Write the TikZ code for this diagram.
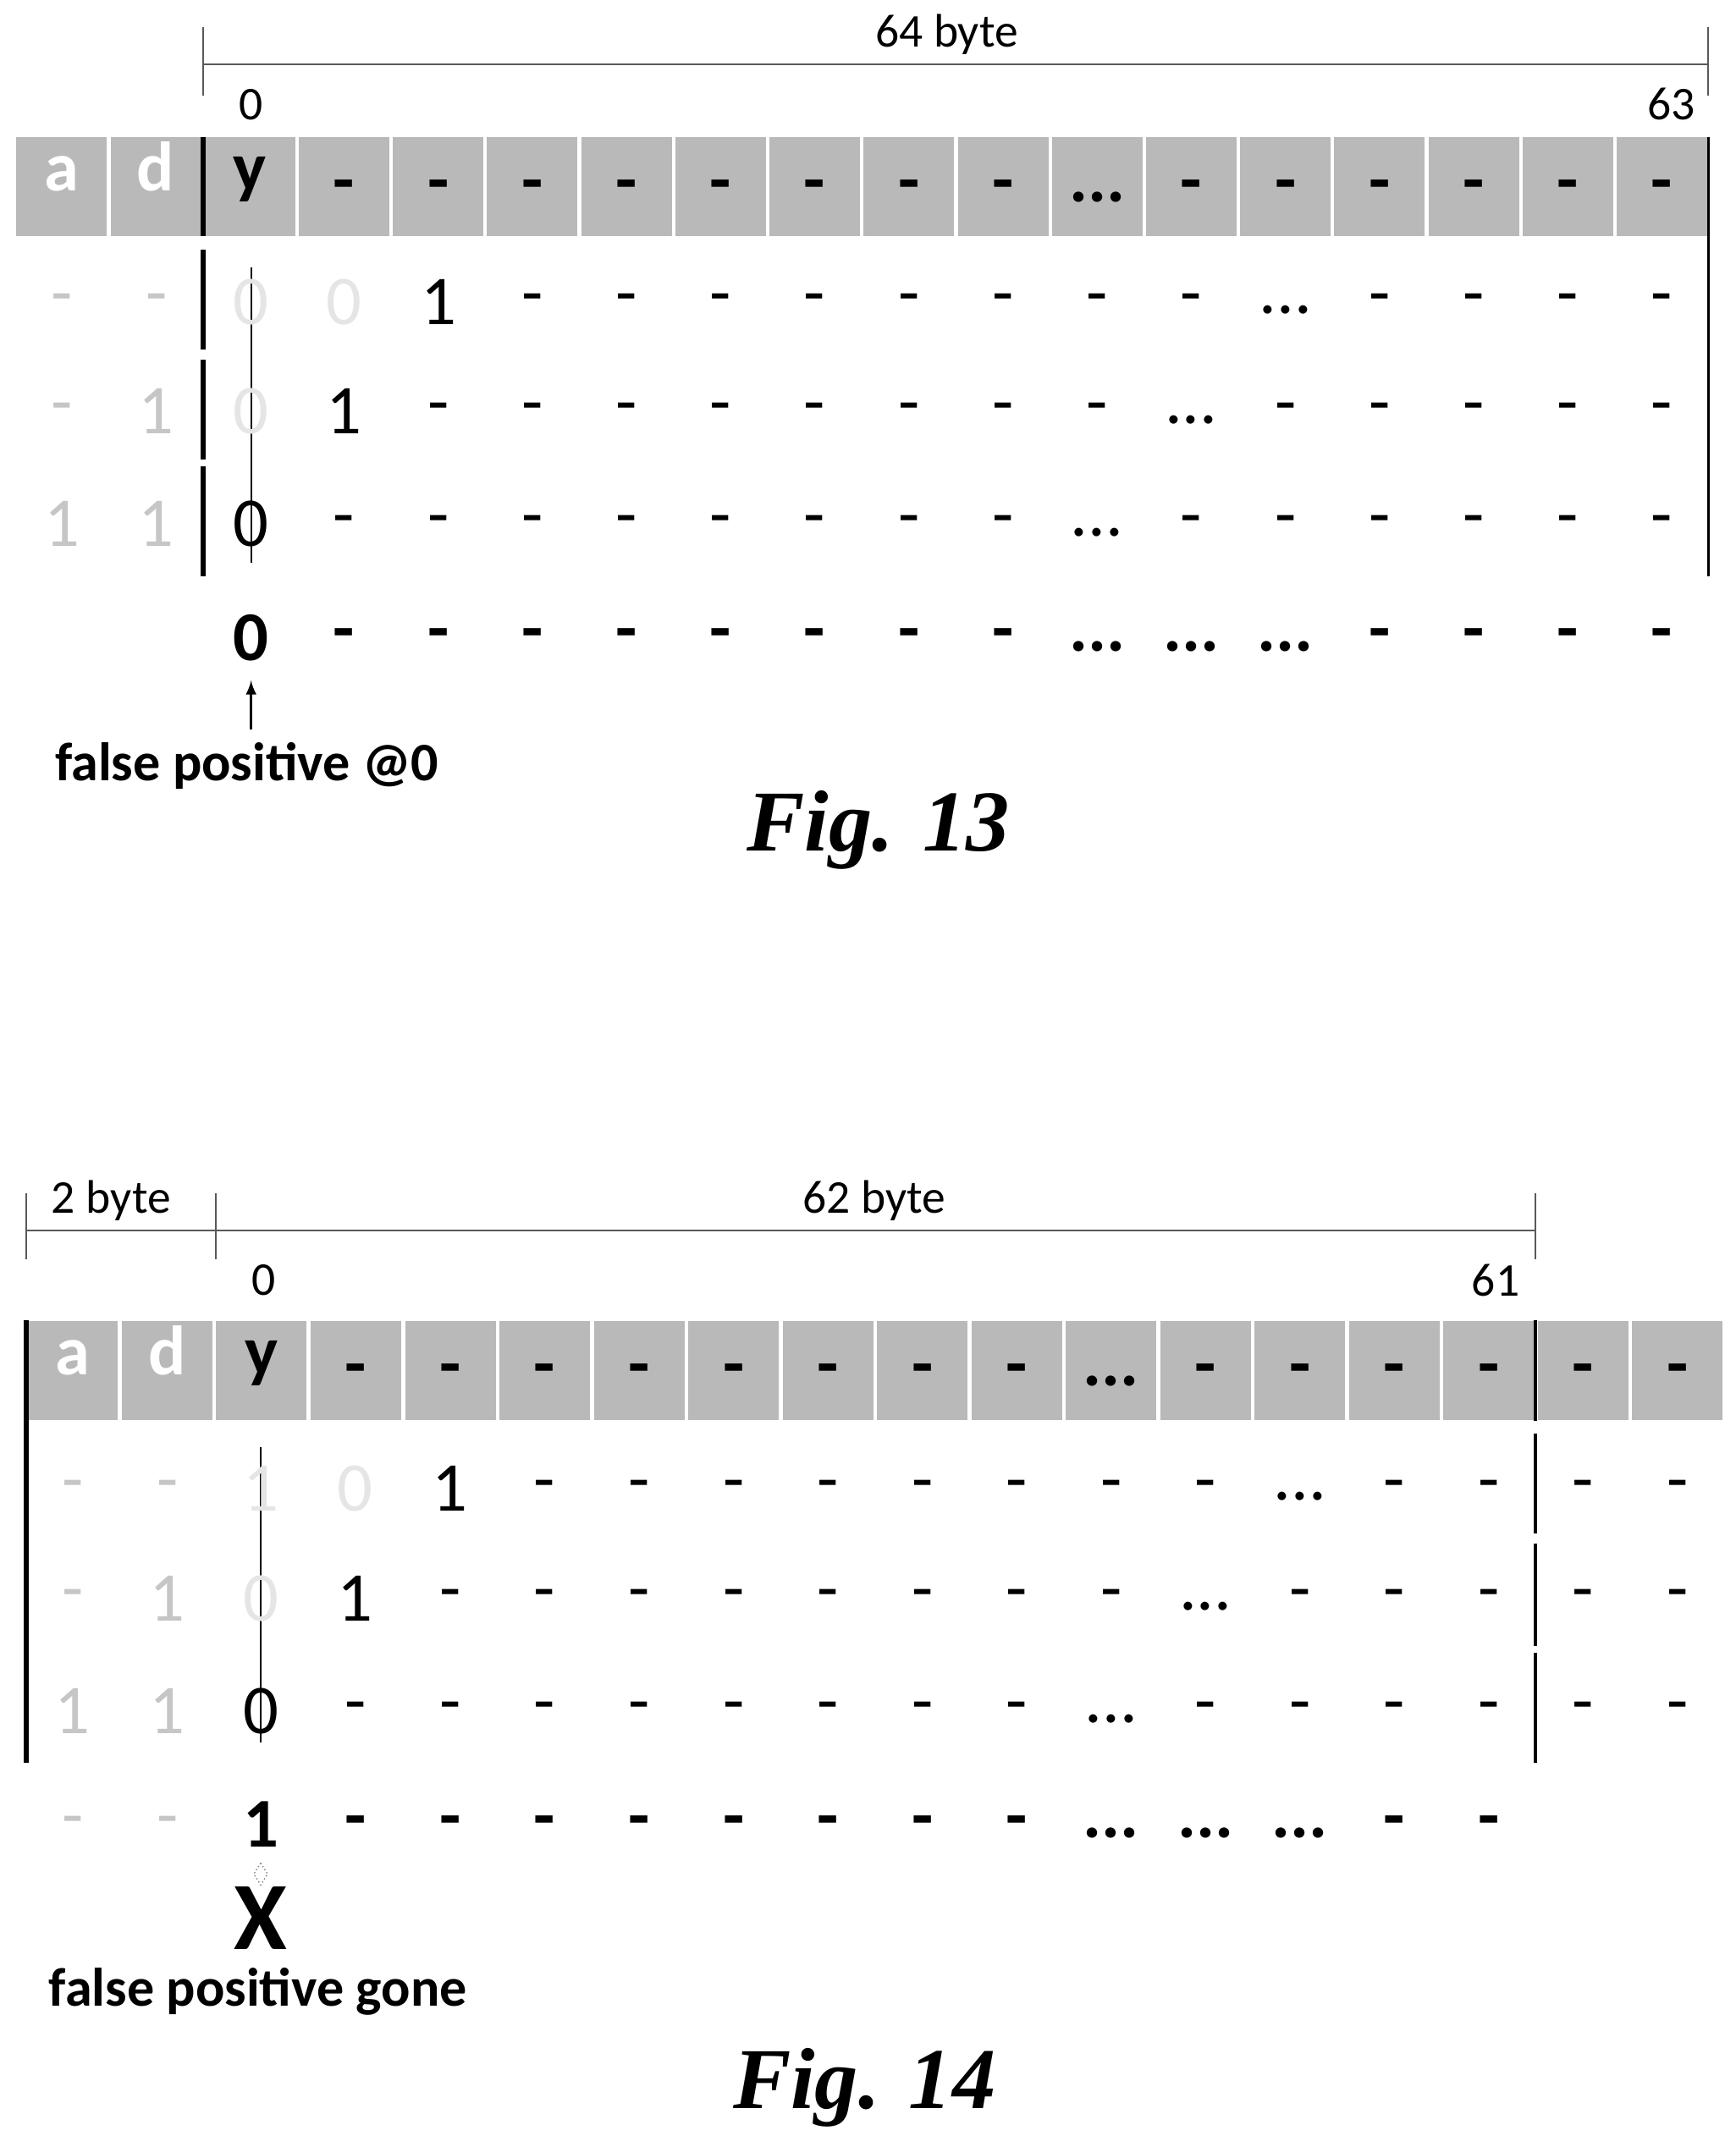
\documentclass[tikz,border=0pt]{standalone}
\usepackage{fontspec}
\setmainfont{Carlito}
\newfontfamily\figfont{Liberation Serif}
\begin{document}
\begin{tikzpicture}[x=0.02cm,y=-0.02cm,
  cell/.style={fill=gray!55,minimum width=66*0.02cm,minimum height=72*0.02cm,inner sep=0,anchor=center},
  big/.style={font=\fontsize{29}{30}\selectfont,inner sep=0},
  bigb/.style={font=\fontsize{29}{30}\selectfont\bfseries,inner sep=0},
  hdr/.style={bigb,text height=0.5em,text depth=0.12em},
  faint/.style={big,text=gray!45},
  ghost/.style={big,text=gray!20},
  lab/.style={font=\fontsize{19.5}{20}\selectfont,inner sep=0},
  captext/.style={font=\fontsize{22.5}{24}\selectfont\bfseries,inner sep=0},
  fig/.style={font=\figfont\fontsize{36}{38}\selectfont\bfseries\itshape,inner sep=0},
  thickline/.style={line width=2pt},
  dim/.style={line width=0.7pt,gray!70!black}]
\useasboundingbox (0,0) rectangle (1265,1565);
% ================= Fig 13 =================
\coordinate (d1) at (148,47); \coordinate (d2) at (1245,47);
\draw[dim] (d1) -- (d2);
\draw[dim] (148,20) -- (148,70); \draw[dim] (1245,20) -- (1245,70);
\node[lab] (t64) at (690,25) {64 byte};
\node[lab] (z13) at (183,76) {0};
\node[lab] (e63) at (1218,76) {63};
\foreach \i in {0,...,17}{
  \pgfmathsetmacro{\cx}{45+68.6*\i}
  \node[cell] (h\i) at (\cx,136) {};
}
\node[hdr,text=white] at (h0) {a};
\node[hdr,text=white] at (h1) {d};
\node[hdr] at (h2) {y};
\foreach \i in {3,...,10,12,13,14,15,16,17}{\node[bigb] at ([yshift=-4*0.02cm]h\i) {-};}
\node[bigb] at ([yshift=-8*0.02cm]h11) {...};
\draw[thickline] (148,100) -- (148,172);
\draw[thickline] (148,182) -- (148,255);
\draw[thickline] (148,262) -- (148,335);
\draw[thickline] (148,340) -- (148,420);
\draw[line width=1pt] (1245,100) -- (1245,420);
\draw[line width=0.6pt] (183,195) -- (183,410);
% row 1
\node[faint] at (45,222) {-}; \node[faint] at (114,222) {-};
\node[ghost] at (183,220) {0}; \node[ghost] at (251,220) {0};
\node[big] at (320,220) {1};
\foreach \i in {5,...,17}{\pgfmathsetmacro{\cx}{45+68.6*\i}
  \ifnum\i=13 \node[big] at (\cx,226) {...};\else\node[big] at (\cx,222) {-};\fi}
% row 2
\node[faint] at (45,302) {-}; \node[faint] at (114,300) {1};
\node[ghost] at (183,300) {0}; \node[big] at (251,300) {1};
\foreach \i in {4,...,17}{\pgfmathsetmacro{\cx}{45+68.6*\i}
  \ifnum\i=12 \node[big] at (\cx,306) {...};\else\node[big] at (\cx,302) {-};\fi}
% row 3
\node[faint] at (45,382) {1}; \node[faint] at (114,382) {1};
\node[big] at (183,382) {0};
\foreach \i in {3,...,17}{\pgfmathsetmacro{\cx}{45+68.6*\i}
  \ifnum\i=11 \node[big] at (\cx,388) {...};\else\node[big] at (\cx,384) {-};\fi}
% row 4
\node[bigb] (r4y) at (183,465) {0};
\foreach \i in {3,...,17}{\pgfmathsetmacro{\cx}{45+68.6*\i}
  \ifnum\i>10 \ifnum\i<14 \node[bigb] at (\cx,471) {...};\else\node[bigb] at (\cx,467) {-};\fi
  \else\node[bigb] at (\cx,467) {-};\fi}
\node[captext] (fp13) at (180,558) {false positive @0};
\coordinate (a13) at (183,532);
\draw[-latex,line width=1pt] (a13) -- (183,496);
\node[fig] (f13) at (640,605) {Fig. 13};
% ================= Fig 14 =================
\draw[dim] (19,897) -- (1119,897);
\draw[dim] (19,870) -- (19,918); \draw[dim] (157,870) -- (157,918); \draw[dim] (1119,870) -- (1119,918);
\node[lab] (t2) at (81,875) {2 byte};
\node[lab] (t62) at (637,875) {62 byte};
\node[lab] (z14) at (192,933) {0};
\node[lab] (e61) at (1090,933) {61};
\foreach \i in {0,...,17}{
  \pgfmathsetmacro{\cx}{53+68.8*\i}
  \node[cell] (k\i) at (\cx,999) {};
}
\node[hdr,text=white] at (k0) {a};
\node[hdr,text=white] at (k1) {d};
\node[hdr] at (k2) {y};
\foreach \i in {3,...,10,12,13,14,15,16,17}{\node[bigb] at ([yshift=-4*0.02cm]k\i) {-};}
\node[bigb] at ([yshift=-8*0.02cm]k11) {...};
\draw[thickline] (19,962) -- (19,1285);
\draw[line width=1.3pt] (1119,962) -- (1119,1036);
\draw[line width=1.3pt] (1119,1045) -- (1119,1118);
\draw[line width=1.3pt] (1119,1125) -- (1119,1200);
\draw[line width=1.3pt] (1119,1205) -- (1119,1285);
\draw[line width=0.6pt] (190,1055) -- (190,1270);
% row 1
\node[faint] at (53,1087) {-}; \node[faint] at (122,1087) {-};
\node[ghost] at (190,1085) {1}; \node[ghost] at (259,1085) {0};
\node[big] at (328,1085) {1};
\foreach \i in {5,...,17}{\pgfmathsetmacro{\cx}{53+68.8*\i}
  \ifnum\i=13 \node[big] at (\cx,1091) {...};\else\node[big] at (\cx,1087) {-};\fi}
% row 2
\node[faint] at (53,1167) {-}; \node[faint] at (122,1165) {1};
\node[ghost] at (190,1165) {0}; \node[big] at (259,1165) {1};
\foreach \i in {4,...,17}{\pgfmathsetmacro{\cx}{53+68.8*\i}
  \ifnum\i=12 \node[big] at (\cx,1171) {...};\else\node[big] at (\cx,1167) {-};\fi}
% row 3
\node[faint] at (53,1247) {1}; \node[faint] at (122,1247) {1};
\node[big] at (190,1247) {0};
\foreach \i in {3,...,17}{\pgfmathsetmacro{\cx}{53+68.8*\i}
  \ifnum\i=11 \node[big] at (\cx,1253) {...};\else\node[big] at (\cx,1249) {-};\fi}
% row 4
\node[faint] at (53,1332) {-}; \node[faint] at (122,1332) {-};
\node[bigb] (r4y14) at (190,1330) {1};
\foreach \i in {3,...,15}{\pgfmathsetmacro{\cx}{53+68.8*\i}
  \ifnum\i>10 \ifnum\i<14 \node[bigb] at (\cx,1336) {...};\else\node[bigb] at (\cx,1332) {-};\fi
  \else\node[bigb] at (\cx,1332) {-};\fi}
\draw[densely dotted,gray,line width=0.5pt] (190,1358) -- (195,1366) -- (190,1374) -- (185,1366) -- cycle;
\node[font=\fontsize{40}{40}\selectfont\bfseries,inner sep=0] (x14) at (190,1398) {X};
\node[captext] (fp14) at (188,1452) {false positive gone};
\node[fig] (f14) at (630,1522) {Fig. 14};
\end{tikzpicture}
\end{document}
